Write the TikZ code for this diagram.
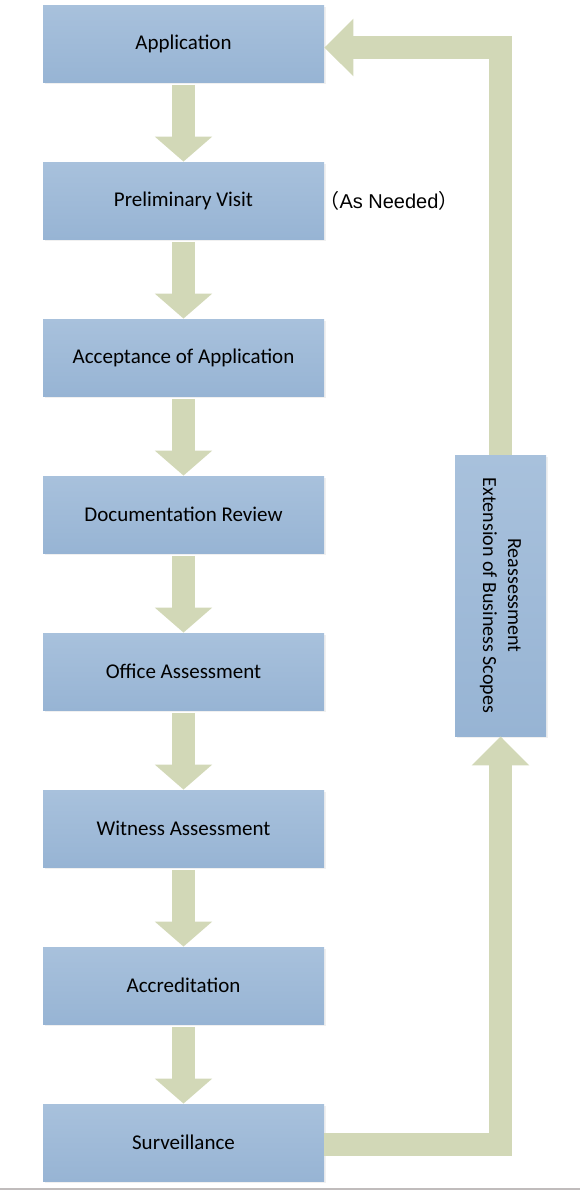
\documentclass[tikz,border=0pt]{standalone}
\usepackage{fontspec}
\setmainfont{Carlito}
\newfontfamily\cjk{Noto Sans CJK JP}
\newfontfamily\notefont{Liberation Sans}
\usetikzlibrary{arrows.meta,positioning,shadows}
\definecolor{boxtop}{HTML}{A8C1DC}
\definecolor{boxbottom}{HTML}{97B4D4}
\definecolor{arrowfill}{HTML}{D2D8B7}
\definecolor{rulegray}{HTML}{C0BCBC}

\begin{document}
\begin{tikzpicture}[auto,node distance=78.5pt,
                    stage node/.style={rectangle, top color=boxtop, bottom color=boxbottom,
                      minimum width=140.5pt, minimum height=38.5pt, inner sep=0pt,
                      font=\fontsize{10.5}{12.5}\selectfont,
                      drop shadow={shadow xshift=1.2pt, shadow yshift=-1.2pt, opacity=0.12}},
                    fat arrow/.style={draw, color=arrowfill, line width=11.2pt,
                      -{Triangle[length=12.5pt,width=28pt,fill=arrowfill]}},
                    side arrow/.style={fat arrow, -{Triangle[length=14.5pt,width=28pt,fill=arrowfill]}}]

  \useasboundingbox (0,0) rectangle (290pt,-595pt);
  \fill[rulegray] (0,-593.8pt) rectangle (290pt,-595pt);

  %Stages%
  \node[stage node] (app) at (91.75pt,-21.75pt) {Application};
  \node[stage node] (visit) [below of=app] {Preliminary Visit};
  \node[stage node] (accept) [below of=visit] {Acceptance of Application};
  \node[stage node] (review) [below of=accept] {Documentation Review};
  \node[stage node] (office) [below of=review] {Office Assessment};
  \node[stage node] (witness) [below of=office] {Witness Assessment};
  \node[stage node] (accred) [below of=witness] {Accreditation};
  \node[stage node] (surv) [below of=accred] {Surveillance};

  \node[font=\notefont\fontsize{10}{12}\selectfont, inner sep=0pt] (needed)
    at ([xshift=102.75pt]visit.center) {{\cjk （}As Needed{\cjk ）}};

  %Loop box%
  \node[stage node, rotate=-90, minimum width=140.5pt, minimum height=45.5pt,
        align=center, font=\fontsize{10}{12.5}\selectfont] (reassess)
    at (250.25pt,-297.75pt) {Reassessment\\Extension of Business Scopes};

  \path[fat arrow, shorten <=1.2pt]
    (app) edge (visit)
    (visit) edge (accept)
    (accept) edge (review)
    (review) edge (office)
    (office) edge (witness)
    (witness) edge (accred)
    (accred) edge (surv);

  \draw[side arrow] ([yshift=-1pt]surv.east) -| (reassess.east);
  \draw[side arrow] (reassess.west) |- ([yshift=-2pt]app.east);
\end{tikzpicture}
\end{document}
